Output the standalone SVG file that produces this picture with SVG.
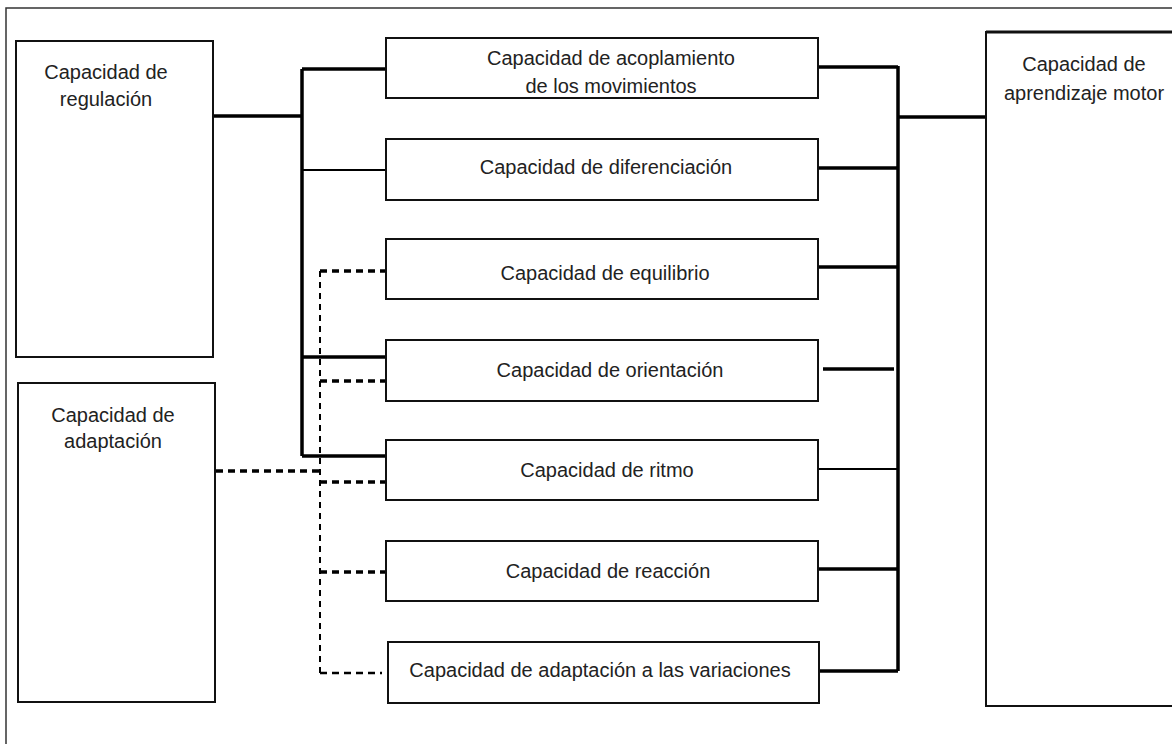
<svg xmlns="http://www.w3.org/2000/svg" width="1172" height="744" viewBox="0 0 1172 744">
<style>
.box{fill:#fff;stroke:#111;stroke-width:2}
.t{font-family:"Liberation Sans",Arial,sans-serif;font-size:20px;fill:#222;text-anchor:middle}
.thick{stroke:#000;stroke-width:3.5;fill:none}
.thin{stroke:#000;stroke-width:2;fill:none}
.dash{stroke:#000;stroke-width:3.5;stroke-dasharray:7 5;fill:none}
.dashv{stroke:#000;stroke-width:2;stroke-dasharray:6 5;fill:none}
.dasht{stroke:#000;stroke-width:2.5;stroke-dasharray:7 5;fill:none}
</style>
<rect x="0" y="0" width="1172" height="744" fill="#fff"/>
<path d="M6,760 V8 H1180" fill="none" stroke="#333" stroke-width="1.5"/>
<g id="connectors">
<path class="thick" d="M213,116 H302"/>
<path class="thick" d="M302,69 V456"/>
<path class="thick" d="M302,69 H386"/>
<path class="thin" d="M302,170 H386"/>
<path class="thick" d="M302,357 H386"/>
<path class="thick" d="M302,456 H386"/>
<path class="dashv" d="M320,271 V673"/>
<path class="dash" d="M320,271 H386"/>
<path class="dash" d="M320,381 H386"/>
<path class="dash" d="M216,471 H320"/>
<path class="dash" d="M320,482 H386"/>
<path class="dash" d="M320,572 H386"/>
<path class="dasht" d="M320,673 H382"/>
<path class="thick" d="M898,66 V671"/>
<path class="thick" d="M818,67 H898"/>
<path class="thick" d="M818,168 H898"/>
<path class="thick" d="M818,267 H898"/>
<path class="thick" d="M823,369 H894"/>
<path class="thin" d="M818,469 H898"/>
<path class="thick" d="M818,569 H898"/>
<path class="thick" d="M818,671 H898"/>
<path class="thick" d="M898,117 H986"/>
</g>
<g id="regulacion">
<rect class="box" x="16" y="41" width="197" height="316"/>
<text class="t" x="106" y="79">Capacidad de</text>
<text class="t" x="106" y="106">regulación</text>
</g>
<g id="adaptacion">
<rect class="box" x="18" y="383" width="197" height="319"/>
<text class="t" x="113" y="422">Capacidad de</text>
<text class="t" x="113" y="448">adaptación</text>
</g>
<g id="aprendizaje">
<path d="M1180,32 H986 V706 H1180" fill="#fff" stroke="#111" stroke-width="2"/>
<path d="M986,32 H1172" stroke="#111" stroke-width="3" fill="none"/>
<text class="t" x="1084" y="71">Capacidad de</text>
<text class="t" x="1084" y="100">aprendizaje motor</text>
</g>
<g id="acoplamiento">
<rect class="box" x="386" y="38" width="432" height="60"/>
<text class="t" x="611" y="65">Capacidad de acoplamiento</text>
<text class="t" x="611" y="93">de los movimientos</text>
</g>
<g id="diferenciacion">
<rect class="box" x="386" y="139" width="432" height="61"/>
<text class="t" x="606" y="174">Capacidad de diferenciación</text>
</g>
<g id="equilibrio">
<rect class="box" x="386" y="239" width="432" height="60"/>
<text class="t" x="605" y="280">Capacidad de equilibrio</text>
</g>
<g id="orientacion">
<rect class="box" x="386" y="340" width="432" height="61"/>
<text class="t" x="610" y="377">Capacidad de orientación</text>
</g>
<g id="ritmo">
<rect class="box" x="386" y="440" width="432" height="60"/>
<text class="t" x="607" y="477">Capacidad de ritmo</text>
</g>
<g id="reaccion">
<rect class="box" x="386" y="541" width="432" height="60"/>
<text class="t" x="608" y="578">Capacidad de reacción</text>
</g>
<g id="variaciones">
<rect class="box" x="388" y="642" width="431" height="61"/>
<text class="t" x="600" y="677">Capacidad de adaptación a las variaciones</text>
</g>
</svg>
